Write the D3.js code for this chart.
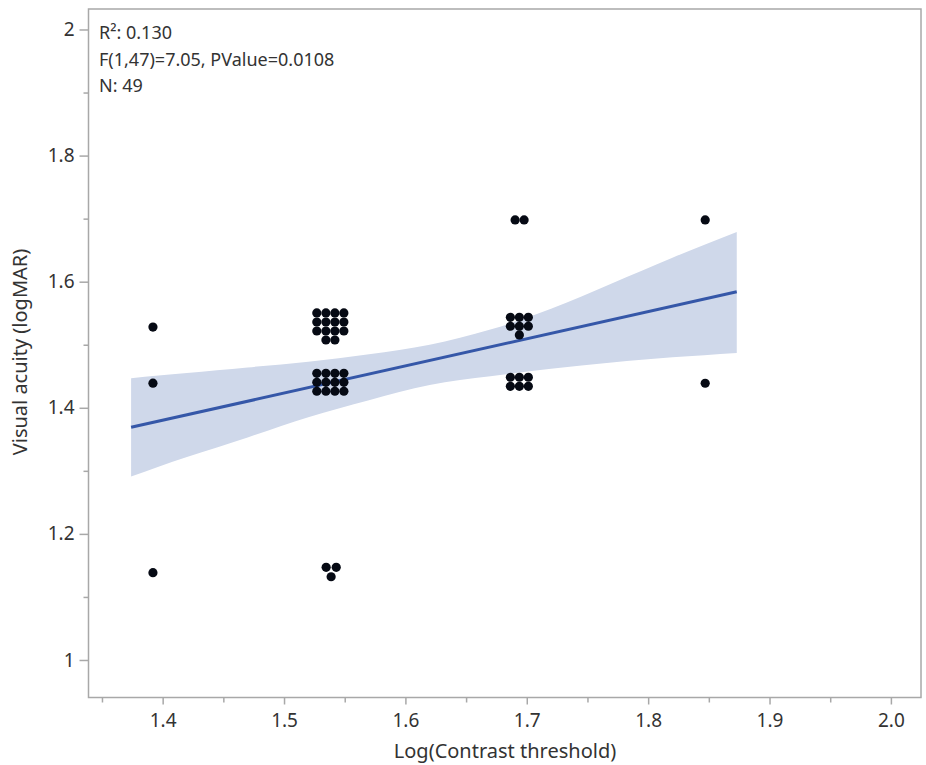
<!DOCTYPE html>
<html lang="en">
<head>
    <meta charset="UTF-8">
    <title>Visual acuity vs contrast threshold</title>
    <script src="https://cdn.jsdelivr.net/npm/d3@7"></script>
    <style>
        body {
            margin: 0;
            background: #fff;
        }
        text {
            font-family: "Noto Sans", "Open Sans", sans-serif;
            fill: #333;
        }
    </style>
</head>
<body>
    <div id="chart"></div>
    <script>
        // points as they appear on the plot (overlapping values are packed by the original software)
        const contrast = [
            1.392, 1.392, 1.392,
            1.527, 1.5345, 1.5419, 1.5493,
            1.527, 1.5345, 1.5419, 1.5493,
            1.527, 1.5345, 1.5419, 1.5493,
            1.5345, 1.5419,
            1.527, 1.5345, 1.5419, 1.5493,
            1.527, 1.5345, 1.5419, 1.5493,
            1.527, 1.5345, 1.5419, 1.5493,
            1.5347, 1.543, 1.5388,
            1.6904, 1.6978,
            1.6865, 1.6939, 1.7013,
            1.6865, 1.6939, 1.7013,
            1.6939,
            1.6865, 1.6939, 1.7013,
            1.6865, 1.6939, 1.7013,
            1.847, 1.847
        ];
        const acuity = [
            1.528, 1.439, 1.1385,
            1.5504, 1.5504, 1.5504, 1.5504,
            1.5361, 1.5361, 1.5361, 1.5361,
            1.5218, 1.5218, 1.5218, 1.5218,
            1.5075, 1.5075,
            1.4547, 1.4547, 1.4547, 1.4547,
            1.4404, 1.4404, 1.4404, 1.4404,
            1.4262, 1.4262, 1.4262, 1.4262,
            1.147, 1.147, 1.132,
            1.698, 1.698,
            1.5435, 1.5435, 1.5435,
            1.5293, 1.5293, 1.5293,
            1.5155,
            1.4484, 1.4484, 1.4484,
            1.4341, 1.4341, 1.4341,
            1.698, 1.4389
        ];

        // fitted line and its confidence band
        const fitX = [1.374, 1.873];
        const fitY = [1.369, 1.584];
        const bandX =    [1.374, 1.42, 1.47, 1.52, 1.57, 1.62, 1.67, 1.72, 1.77, 1.82, 1.873];
        const bandHigh = [1.447, 1.455, 1.464, 1.473, 1.485, 1.500, 1.524, 1.557, 1.597, 1.638, 1.679];
        const bandLow =  [1.291, 1.322, 1.353, 1.385, 1.412, 1.436, 1.450, 1.462, 1.472, 1.480, 1.487];

        const xMajor = [1.4, 1.5, 1.6, 1.7, 1.8, 1.9, 2.0];
        const xMinor = [1.35, 1.45, 1.55, 1.65, 1.75, 1.85, 1.95];
        const yMajor = [1, 1.2, 1.4, 1.6, 1.8, 2];
        const yMinor = [1.1, 1.3, 1.5, 1.7, 1.9];

        const statLines = ["R²: 0.130", "F(1,47)=7.05, PValue=0.0108", "N: 49"];
        const xTitle = "Log(Contrast threshold)";
        const yTitle = "Visual acuity (logMAR)";

        const W = 926, H = 765;
        const margin = {top: 9, right: 5, bottom: 67.5, left: 88.5};

        const svg = d3.select("#chart")
            .append("svg")
            .attr("width", W)
            .attr("height", H);

        const x = d3.scaleLinear()
            .domain([1.3389, 2.0248])
            .range([margin.left, W - margin.right]);
        const y = d3.scaleLinear()
            .domain([0.9405, 2.0325])
            .range([H - margin.bottom, margin.top]);

        // band
        const bandData = bandX.map((v, i) => ({x: v, lo: bandLow[i], hi: bandHigh[i]}));
        svg.append("path")
            .datum(bandData)
            .attr("fill", "#cfd8ea")
            .attr("d", d3.area()
                .x(d => x(d.x))
                .y0(d => y(d.lo))
                .y1(d => y(d.hi))
                .curve(d3.curveNatural));

        // fit line
        svg.append("path")
            .datum(fitX.map((v, i) => [v, fitY[i]]))
            .attr("fill", "none")
            .attr("stroke", "#3557a8")
            .attr("stroke-width", 3)
            .attr("d", d3.line().x(d => x(d[0])).y(d => y(d[1])));

        // points
        svg.append("g")
            .selectAll("circle")
            .data(contrast.map((v, i) => [v, acuity[i]]))
            .enter()
            .append("circle")
            .attr("cx", d => x(d[0]))
            .attr("cy", d => y(d[1]))
            .attr("r", 4.6)
            .attr("fill", "#060a14");

        // frame
        svg.append("rect")
            .attr("x", margin.left)
            .attr("y", margin.top)
            .attr("width", W - margin.left - margin.right)
            .attr("height", H - margin.top - margin.bottom)
            .attr("fill", "none")
            .attr("stroke", "#a8a8a8")
            .attr("stroke-width", 1.5);

        // x axis
        const gx = svg.append("g")
            .attr("transform", `translate(0,${H - margin.bottom})`)
            .call(d3.axisBottom(x).tickValues(xMinor).tickSize(5).tickFormat(""));
        gx.select(".domain").remove();
        const gx2 = svg.append("g")
            .attr("transform", `translate(0,${H - margin.bottom})`)
            .call(d3.axisBottom(x).tickValues(xMajor).tickSize(7).tickPadding(9).tickFormat(d3.format(".1f")));
        gx2.select(".domain").remove();

        // y axis
        const gy = svg.append("g")
            .attr("transform", `translate(${margin.left},0)`)
            .call(d3.axisLeft(y).tickValues(yMinor).tickSize(5).tickFormat(""));
        gy.select(".domain").remove();
        const gy2 = svg.append("g")
            .attr("transform", `translate(${margin.left},0)`)
            .call(d3.axisLeft(y).tickValues(yMajor).tickSize(9).tickPadding(5).tickFormat(d3.format("")));
        gy2.select(".domain").remove();

        svg.selectAll(".tick line").attr("stroke", "#a8a8a8").attr("stroke-width", 1.5);
        svg.selectAll(".tick text")
            .style("font-family", '"Noto Sans", "Open Sans", sans-serif')
            .style("font-size", "19px")
            .attr("fill", "#333");

        // axis titles
        svg.append("text")
            .attr("x", 505)
            .attr("y", 758)
            .attr("text-anchor", "middle")
            .style("font-size", "20px")
            .text(xTitle);

        svg.append("text")
            .attr("transform", `translate(27,352) rotate(-90)`)
            .attr("text-anchor", "middle")
            .style("font-size", "20px")
            .text(yTitle);

        // stats box
        svg.append("g")
            .selectAll("text")
            .data(statLines)
            .enter()
            .append("text")
            .attr("x", 99)
            .attr("y", (d, i) => 39 + i * 26.5)
            .style("font-size", "18px")
            .text(d => d);
    </script>
</body>
</html>
